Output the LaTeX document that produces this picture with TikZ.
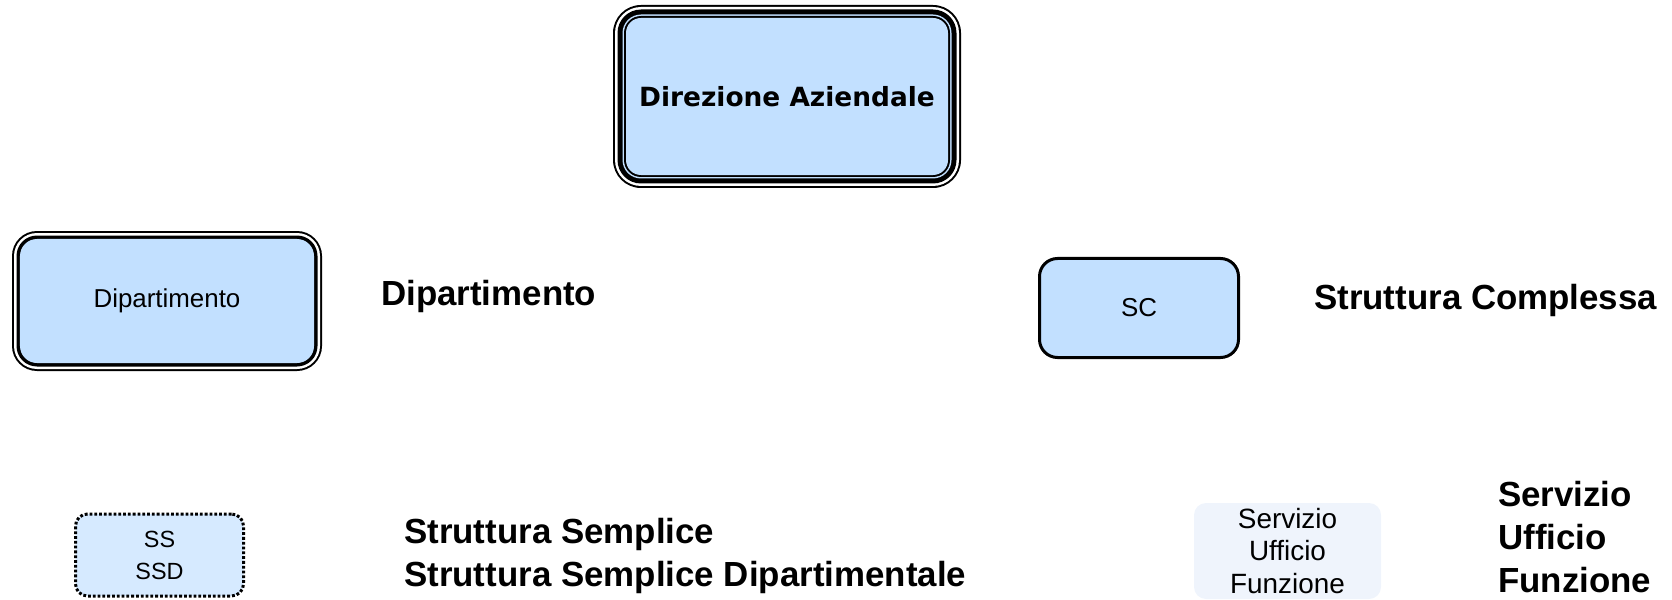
\documentclass[tikz,border=0pt]{standalone}
\usepackage{fontspec}
\setmainfont{Liberation Sans}
\newfontfamily\dejavu{DejaVu Sans}
\definecolor{boxblue}{RGB}{194,224,255}
\definecolor{ssblue}{RGB}{214,234,255}
\definecolor{servblue}{RGB}{239,244,252}
\tikzset{
    unitbox/.style={fill=boxblue, inner sep=0pt, align=center},
    boldlabel/.style={anchor=west, inner sep=0pt, align=left, font=\fontsize{35}{43}\selectfont\bfseries},
}
\begin{document}
\begin{tikzpicture}[x=1bp, y=-1bp]
    \useasboundingbox (0,0) rectangle (1672,600);
% Direzione Aziendale
\foreach \d/\r/\c in {0/28/black,2/26/white,4.5/23.5/black,9.5/18.5/boxblue,11/17/black}
{
    \fill[\c, rounded corners=\r bp] (613+\d,5+\d) rectangle (961-\d,188-\d);
}
\node[unitbox, rounded corners=15bp, minimum width=322bp, minimum height=157bp, font=\dejavu\bfseries\fontsize{26.5}{30}\selectfont] (dir) at (787,96.5) {Direzione Aziendale};

% Dipartimento
\foreach \d/\r/\c in {0/25/black,2/23/white,4.5/20.5/black}
{
    \fill[\c, rounded corners=\r bp] (12+\d,231+\d) rectangle (322-\d,371-\d);
}
\node[unitbox, rounded corners=17bp, minimum width=294bp, minimum height=124bp, font=\fontsize{26}{31}\selectfont] (dip) at (167,301) {Dipartimento};
\node[boldlabel] (diplabel) at (381,296) {Dipartimento};

% SC
\node[unitbox, draw, line width=3bp, rounded corners=18bp, minimum width=199bp, minimum height=99bp, font=\fontsize{26}{30}\selectfont] (sc) at (1139,308) {SC};
\node[boldlabel] (sclabel) at (1314,300) {Struttura Complessa};

% SS / SSD
\node[unitbox, fill=ssblue, draw, line width=3bp, dash pattern=on 2.8bp off 2bp, rounded corners=12bp, minimum width=168bp, minimum height=82bp, font=\fontsize{23.5}{32}\selectfont] (ss) at (159.5,555) {SS\\SSD};
\node[boldlabel] (sslabel) at (404,556) {Struttura Semplice\\Struttura Semplice Dipartimentale};

% Servizio
\node[unitbox, fill=servblue, rounded corners=12bp, minimum width=187bp, minimum height=96bp, font=\fontsize{28}{33}\selectfont] (serv) at (1287.5,551) {Servizio\\Ufficio\\Funzione};
\node[boldlabel] (servlabel) at (1498,537) {Servizio\\Ufficio\\Funzione};

\end{tikzpicture}
\end{document}
